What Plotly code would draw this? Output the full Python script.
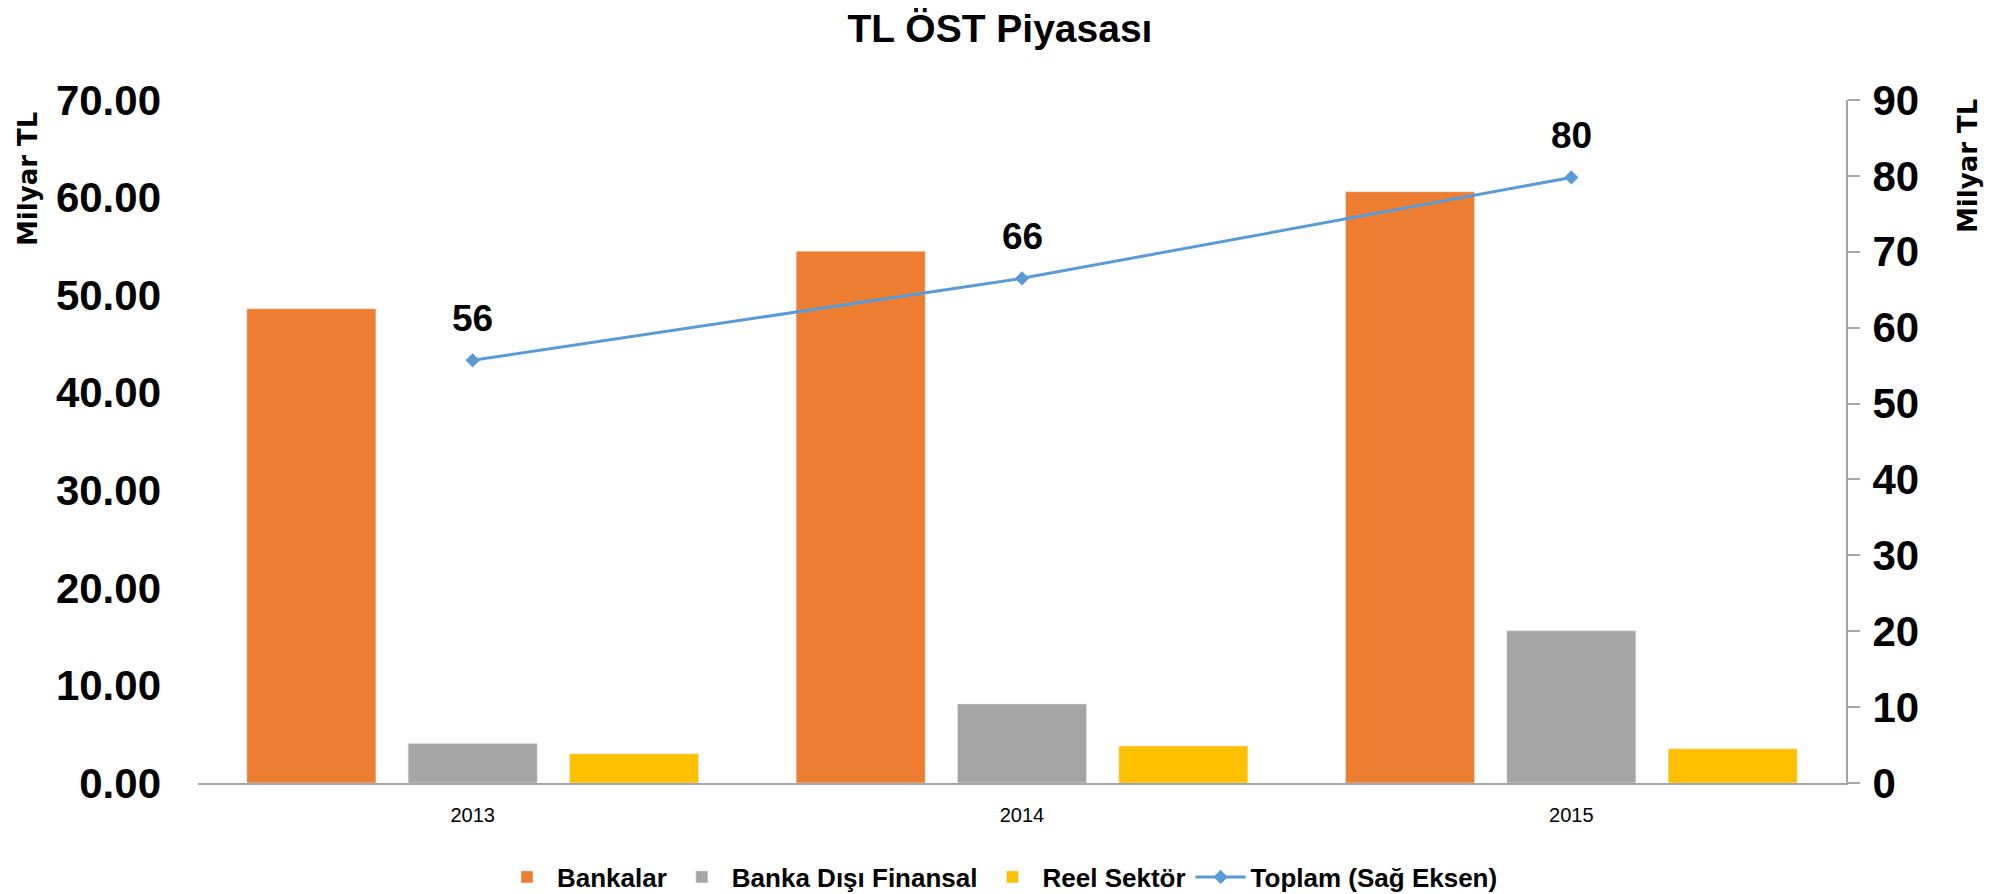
import plotly.graph_objects as go

years = ["2013", "2014", "2015"]
bankalar = [48.6, 54.5, 60.6]
banka_disi = [4.05, 8.1, 15.6]
reel = [3.0, 3.8, 3.5]
toplam = [55.7, 66.5, 79.8]
toplam_labels = ["56", "66", "80"]

left_ticks = [0, 10, 20, 30, 40, 50, 60, 70]
left_ticktext = ["0.00", "10.00", "20.00", "30.00", "40.00", "50.00", "60.00", "70.00"]
right_ticks = [0, 10, 20, 30, 40, 50, 60, 70, 80, 90]

FONT = "Liberation Sans, Arial, sans-serif"
BOLD_TICK = dict(family=FONT, size=42, color="black", weight="bold")

W, H = 2000, 894
ML, MR, MT, MB = 198, 154, 100, 111

fig = go.Figure()
fig.add_trace(go.Bar(x=years, y=bankalar, name="Bankalar", marker_color="#ED7D31"))
fig.add_trace(go.Bar(x=years, y=banka_disi, name="Banka Dışı Finansal", marker_color="#A5A5A5"))
fig.add_trace(go.Bar(x=years, y=reel, name="Reel Sektör", marker_color="#FFC000"))
fig.add_trace(go.Scatter(x=years, y=toplam, name="Toplam (Sağ Eksen)", yaxis="y2",
                         mode="lines+markers",
                         line=dict(color="#5B9BD5", width=3),
                         marker=dict(symbol="diamond", size=11, color="#5B9BD5")))

fig.update_layout(
    width=W, height=H,
    margin=dict(l=ML, r=MR, t=MT, b=MB, pad=0, autoexpand=False),
    paper_bgcolor="white", plot_bgcolor="white",
    title=dict(text="TL ÖST Piyasası", x=0.5, xanchor="center", y=1 - 28 / H, yanchor="middle",
               font=dict(family=FONT, size=39, color="black", weight="bold")),
    barmode="group", bargap=0.119, bargroupgap=0.20,
    xaxis=dict(type="category", showgrid=False, showline=True, linecolor="#A6A6A6", linewidth=2,
               ticks="", tickfont=dict(family=FONT, size=20, color="black"), ticklabelstandoff=13,
               range=[-0.5, 2.5]),
    yaxis=dict(range=[0, 70], tickvals=left_ticks, ticktext=left_ticktext, showgrid=False,
               showline=False, zeroline=False, ticks="", tickfont=BOLD_TICK, ticklabelstandoff=36),
    yaxis2=dict(range=[0, 90], tickvals=right_ticks, overlaying="y", side="right", showgrid=False,
                showline=True, linecolor="#A6A6A6", linewidth=2, zeroline=False, ticks="outside",
                ticklen=12, tickcolor="#A6A6A6", tickwidth=2, tickfont=BOLD_TICK, ticklabelstandoff=4),
    legend=dict(orientation="h", x=0.5, xanchor="center", y=1 - 877 / H, yanchor="middle",
                xref="container", yref="container", itemwidth=50,
                font=dict(family=FONT, size=26, color="black", weight="bold")),
    showlegend=True,
)

# Data labels above the line points (category axis positions are given by index)
for i, (v, t) in enumerate(zip(toplam, toplam_labels)):
    fig.add_annotation(x=i, y=v, xref="x", yref="y2", text=t, showarrow=False,
                       yshift=42, font=dict(family=FONT, size=37, color="black", weight="bold"))

ann_font = dict(family="DejaVu Sans, sans-serif", size=26, color="black", weight="bold")
dom_w = W - ML - MR
dom_h = H - MT - MB
def px_to_paper(px, py):
    return (px - ML) / dom_w, (H - MB - py) / dom_h
lx, ly = px_to_paper(28, 179)
rx, ry = px_to_paper(1968, 166)
fig.add_annotation(x=lx, y=ly, xref="paper", yref="paper", text="Milyar TL", textangle=-90,
                   showarrow=False, font=ann_font, xanchor="center", yanchor="middle")
fig.add_annotation(x=rx, y=ry, xref="paper", yref="paper", text="Milyar TL", textangle=-90,
                   showarrow=False, font=ann_font, xanchor="center", yanchor="middle")

fig.write_html("out.html")
